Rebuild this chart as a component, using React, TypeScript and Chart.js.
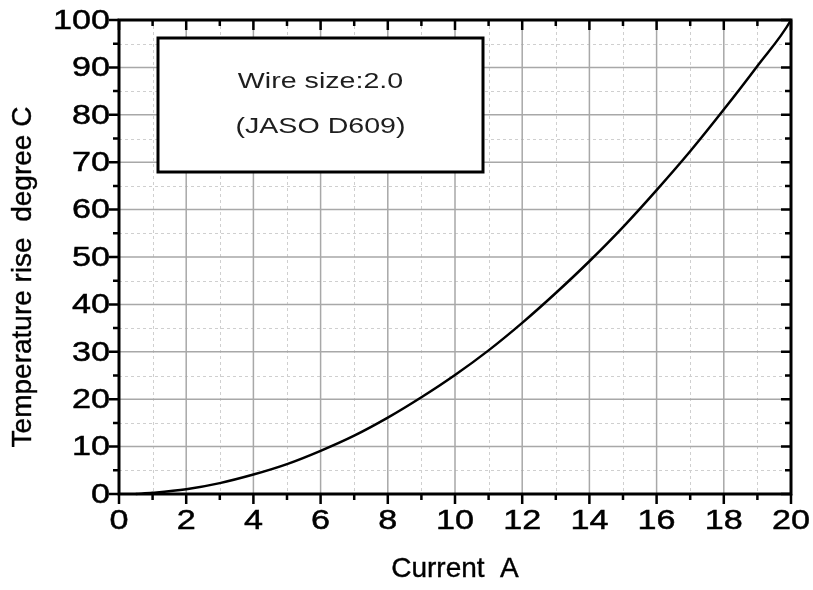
import React, { useEffect, useRef } from "react";
import { Chart, registerables } from "chart.js";

Chart.register(...registerables);

// Data (current A vs temperature rise °C)
const currentA = [0.5, 1, 2, 3, 4, 5, 6, 7, 8, 9, 10, 11, 12, 13, 14, 15, 16, 17, 18, 19, 20, 20.2];
const tempRise = [0, 0.25, 1.0, 2.3, 4.1, 6.3, 9.1, 12.3, 16.1, 20.4, 25.1, 30.3, 36.1, 42.4, 49.1, 56.3, 64.1, 72.3, 81.1, 90.3, 100, 103];

const xMajorTicks = [0, 2, 4, 6, 8, 10, 12, 14, 16, 18, 20];
const xMinorTicks = [1, 3, 5, 7, 9, 11, 13, 15, 17, 19];
const yMajorTicks = [0, 10, 20, 30, 40, 50, 60, 70, 80, 90, 100];
const yMinorTicks = [5, 15, 25, 35, 45, 55, 65, 75, 85, 95];

const xTitle = "Current  A";
const yTitle = "Temperature rise  degree C";
const boxLines = ["Wire size:2.0", "(JASO D609)"];

const FONT = "'Liberation Sans', Arial, sans-serif";

function drawScaledText(ctx: any, text: string, x: number, y: number, sx: number, align: string, stroke = 0) {
  ctx.save();
  ctx.translate(x, y);
  ctx.scale(sx, 1);
  ctx.textAlign = align;
  ctx.fillText(text, 0, 0);
  if (stroke > 0) {
    ctx.lineWidth = stroke;
    ctx.strokeStyle = ctx.fillStyle;
    ctx.strokeText(text, 0, 0);
  }
  ctx.restore();
}

const framePlugin = {
  id: "frame",
  beforeDatasetsDraw(chart: any) {
    const { ctx, chartArea, scales } = chart;
    const { left, right, top, bottom } = chartArea;
    const x = scales.x;
    const y = scales.y;
    ctx.save();
    // minor grid (dashed)
    ctx.lineWidth = 1;
    ctx.strokeStyle = "#cfcfcf";
    ctx.setLineDash([3, 3]);
    ctx.beginPath();
    xMinorTicks.forEach((v) => {
      const px = Math.round(x.getPixelForValue(v)) + 0.5;
      ctx.moveTo(px, top);
      ctx.lineTo(px, bottom);
    });
    yMinorTicks.forEach((v) => {
      const py = Math.round(y.getPixelForValue(v)) + 0.5;
      ctx.moveTo(left, py);
      ctx.lineTo(right, py);
    });
    ctx.stroke();
    // major grid (solid)
    ctx.setLineDash([]);
    ctx.strokeStyle = "#a8a8a8";
    ctx.lineWidth = 1.5;
    ctx.beginPath();
    xMajorTicks.forEach((v) => {
      const px = x.getPixelForValue(v);
      ctx.moveTo(px, top);
      ctx.lineTo(px, bottom);
    });
    yMajorTicks.forEach((v) => {
      const py = y.getPixelForValue(v);
      ctx.moveTo(left, py);
      ctx.lineTo(right, py);
    });
    ctx.stroke();
    ctx.restore();
  },
  afterDatasetsDraw(chart: any) {
    const { ctx, chartArea, scales } = chart;
    const { left, right, top, bottom } = chartArea;
    const x = scales.x;
    const y = scales.y;
    ctx.save();
    ctx.strokeStyle = "#000";
    ctx.setLineDash([]);
    // ticks
    ctx.lineWidth = 2.5;
    ctx.beginPath();
    const major = 10;
    const minor = 6;
    xMajorTicks.forEach((v) => {
      const px = x.getPixelForValue(v);
      ctx.moveTo(px, bottom);
      ctx.lineTo(px, bottom + major);
      ctx.moveTo(px, top);
      ctx.lineTo(px, top + major);
    });
    xMinorTicks.forEach((v) => {
      const px = x.getPixelForValue(v);
      ctx.moveTo(px, bottom);
      ctx.lineTo(px, bottom + minor);
      ctx.moveTo(px, top);
      ctx.lineTo(px, top + minor);
    });
    yMajorTicks.forEach((v) => {
      const py = y.getPixelForValue(v);
      ctx.moveTo(left, py);
      ctx.lineTo(left - major, py);
      ctx.moveTo(right, py);
      ctx.lineTo(right - major, py);
    });
    yMinorTicks.forEach((v) => {
      const py = y.getPixelForValue(v);
      ctx.moveTo(left, py);
      ctx.lineTo(left - minor, py);
      ctx.moveTo(right, py);
      ctx.lineTo(right - minor, py);
    });
    ctx.stroke();
    // frame
    ctx.lineWidth = 3;
    ctx.strokeRect(left, top, right - left, bottom - top);

    // tick labels (values come from the Chart.js scales)
    ctx.fillStyle = "#000";
    ctx.font = `28px ${FONT}`;
    ctx.textBaseline = "middle";
    x.ticks.forEach((t: any) => {
      drawScaledText(ctx, String(t.value), x.getPixelForValue(t.value), bottom + 27, 1.22, "center", 0.5);
    });
    y.ticks.forEach((t: any) => {
      drawScaledText(ctx, String(t.value), left - 9, y.getPixelForValue(t.value) + 1, 1.22, "right", 0.5);
    });

    // axis titles
    ctx.font = `28px ${FONT}`;
    drawScaledText(ctx, xTitle, (left + right) / 2, 569, 1, "center", 0.4);
    ctx.save();
    ctx.translate(23, (top + bottom) / 2 + 20);
    ctx.rotate(-Math.PI / 2);
    drawScaledText(ctx, yTitle, 0, 0, 1, "center", 0.4);
    ctx.restore();

    // annotation box
    const bx = left + 39;
    const by = top + 18;
    const bw = 325;
    const bh = 134;
    ctx.fillStyle = "#fff";
    ctx.fillRect(bx, by, bw, bh);
    ctx.lineWidth = 3;
    ctx.strokeStyle = "#000";
    ctx.strokeRect(bx, by, bw, bh);
    ctx.fillStyle = "#1e1e1e";
    ctx.font = `22px ${FONT}`;
    ctx.textBaseline = "middle";
    const cx = bx + bw / 2;
    drawScaledText(ctx, boxLines[0], cx, by + 44, 1.3, "center");
    drawScaledText(ctx, boxLines[1], cx, by + 89, 1.3, "center");
    ctx.restore();
  },
};

export default function App() {
  const ref = useRef<HTMLCanvasElement | null>(null);
  useEffect(() => {
    if (!ref.current) return;
    const chart = new Chart(ref.current, {
      type: "line",
      data: {
        datasets: [
          {
            data: currentA.map((c, i) => ({ x: c, y: tempRise[i] })),
            borderColor: "#000",
            borderWidth: 2.5,
            pointRadius: 0,
            fill: false,
            cubicInterpolationMode: "monotone",
            clip: false as any,
          },
        ],
      },
      options: {
        responsive: false,
        animation: false,
        layout: { padding: { left: 0, right: 22, top: 20, bottom: 0 } },
        plugins: { legend: { display: false }, tooltip: { enabled: false }, title: { display: false } },
        scales: {
          x: {
            type: "linear",
            min: 0,
            max: 20,
            afterFit: (s: any) => {
              s.height = 96;
              s.paddingLeft = 0;
              s.paddingRight = 0;
            },
            afterBuildTicks: (s: any) => {
              s.ticks = xMajorTicks.map((v) => ({ value: v }));
            },
            ticks: { display: false },
            grid: { display: false, drawTicks: false },
            border: { display: false },
            title: { display: false },
          },
          y: {
            type: "linear",
            min: 0,
            max: 100,
            afterFit: (s: any) => {
              s.width = 119;
              s.paddingTop = 0;
              s.paddingBottom = 0;
            },
            afterBuildTicks: (s: any) => {
              s.ticks = yMajorTicks.map((v) => ({ value: v }));
            },
            ticks: { display: false },
            grid: { display: false, drawTicks: false },
            border: { display: false },
            title: { display: false },
          },
        },
      },
      plugins: [framePlugin],
    });
    return () => chart.destroy();
  }, []);
  return (
    <div style={{ position: "absolute", left: 0, top: 0, width: 813, height: 590, background: "#fff" }}>
      <canvas ref={ref} width={813} height={590} style={{ display: "block" }} />
    </div>
  );
}
